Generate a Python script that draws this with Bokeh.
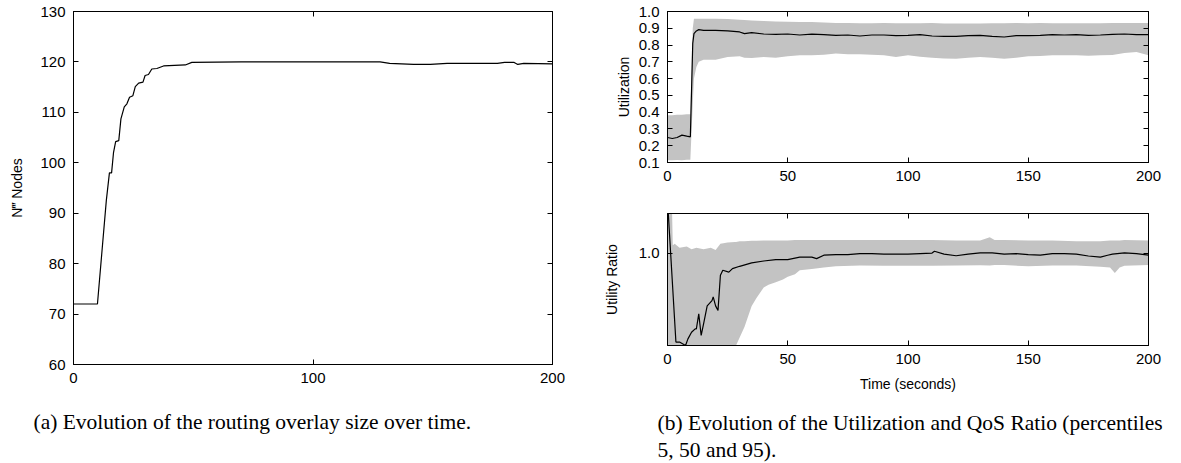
from bokeh.plotting import figure
from bokeh.models import Range1d, LinearAxis, FixedTicker, PrintfTickFormatter, Title, CustomJSTickFormatter
from bokeh.layouts import row, column
from bokeh.embed import file_html
from bokeh.resources import INLINE

# ---------------- data ----------------
# (a) routing overlay size
t_nodes = [0, 10, 13.7, 15.0, 15.9, 16.7, 17.6, 18.9, 19.8, 21.2, 22.3, 23.4, 24.8, 25.8, 27.2, 29.0,
           29.9, 31.3, 32.7, 34.8, 37.6, 46.7, 49.4, 70, 100, 128, 132, 142, 149, 156, 177, 180,
           184, 185.5, 188, 200]
nodes = [72, 72, 92.5, 98.0, 98.0, 102.0, 104.2, 104.4, 108.7, 111.1, 111.7, 113.0, 113.3, 115.1,
         115.8, 116.0, 117.3, 117.5, 118.6, 118.7, 119.2, 119.4, 119.9, 120.0, 120.0, 120.0, 119.7,
         119.5, 119.5, 119.7, 119.7, 119.9, 119.9, 119.5, 119.7, 119.6]

# (b) utilization percentiles
t_util = [0, 2, 4, 6, 8, 9.5, 10.5, 11, 12, 13, 15, 20, 25, 30, 32, 35,
          40, 45, 50, 55, 60, 65, 70, 75, 80, 85, 90, 95,
          100, 105, 110, 115, 120, 125, 130, 135, 140, 145, 150, 155, 160, 165, 170, 175, 180,
          185, 190, 195, 200]
util_p50 = [0.249, 0.243, 0.249, 0.263, 0.257, 0.253, 0.81, 0.868, 0.884, 0.892, 0.888, 0.888,
            0.884, 0.878, 0.868, 0.874,
            0.866, 0.864, 0.866, 0.86, 0.865, 0.862, 0.858, 0.86, 0.854, 0.86, 0.86, 0.856,
            0.858, 0.862, 0.854, 0.852, 0.852, 0.856, 0.858, 0.852, 0.848, 0.856, 0.856, 0.858,
            0.862, 0.86, 0.862, 0.858, 0.86, 0.864, 0.866, 0.862, 0.862]
util_p95 = [0.382, 0.382, 0.384, 0.384, 0.388, 0.388, 0.9, 0.957, 0.957, 0.957, 0.957, 0.957,
            0.955, 0.951, 0.95, 0.947,
            0.943, 0.941, 0.939, 0.937, 0.937, 0.935, 0.931, 0.931, 0.93, 0.93, 0.931, 0.93,
            0.93, 0.93, 0.931, 0.928, 0.928, 0.929, 0.929, 0.93, 0.93, 0.931, 0.93, 0.932,
            0.93, 0.93, 0.93, 0.93, 0.93, 0.931, 0.932, 0.931, 0.932]
util_p5 = [0.114, 0.113, 0.115, 0.114, 0.116, 0.116, 0.45, 0.6, 0.669, 0.70, 0.713, 0.713,
           0.729, 0.733, 0.725, 0.723,
           0.729, 0.725, 0.733, 0.739, 0.739, 0.742, 0.749, 0.745, 0.745, 0.742, 0.739, 0.729,
           0.739, 0.73, 0.725, 0.72, 0.719, 0.725, 0.729, 0.725, 0.719, 0.725, 0.733, 0.735,
           0.739, 0.739, 0.739, 0.737, 0.739, 0.74, 0.753, 0.759, 0.739]

# (b) utility ratio percentiles
t_ratio_med = [0, 3.5, 5, 7.5, 8.5, 10, 11.5, 12, 13, 14, 15, 16.5, 18.5, 19, 20, 21, 22, 23, 25.5,
               27, 30, 35, 40, 45, 50, 55, 60, 62, 65, 70, 75, 80, 85, 90, 95, 100, 105, 110, 111,
               115, 120, 125, 130, 135, 140, 145, 150, 155, 160, 165, 170, 175, 180, 183, 185,
               190, 195, 200]
ratio_p50 = [1.2, 0.663, 0.663, 0.65, 0.675, 0.70, 0.713, 0.713, 0.77, 0.688, 0.732, 0.80, 0.82,
             0.834, 0.80, 0.783, 0.916, 0.935, 0.928, 0.941, 0.95, 0.963, 0.97, 0.975, 0.975,
             0.985, 0.985, 0.979, 0.992, 0.994, 0.994, 0.998, 0.998, 0.996, 0.996, 0.996, 0.998,
             1.0, 1.007, 0.996, 0.99, 0.996, 1.001, 1.001, 0.996, 0.998, 0.994, 0.992, 0.998,
             0.998, 0.996, 0.989, 0.985, 0.992, 0.996, 1.001, 0.998, 0.992]
t_ratio_band = [0, 1.8, 2.2, 3, 5, 8, 10, 12, 15, 18, 20, 22, 25, 28, 28.5, 30, 32, 35, 37, 40,
                42, 45, 48, 50, 53, 55, 60, 65, 70, 80, 90, 100, 110, 120, 130, 134, 136, 140,
                150, 160, 170, 180, 184, 186, 188, 190, 200]
ratio_p95 = [1.2, 1.2, 1.03, 1.035, 1.02, 1.025, 1.015, 1.02, 1.015, 1.02, 1.012, 1.035, 1.04,
             1.042, 1.042, 1.045, 1.045, 1.047, 1.047, 1.048, 1.048, 1.048, 1.048, 1.048, 1.05,
             1.05, 1.05, 1.05, 1.05, 1.05, 1.05, 1.05, 1.05, 1.048, 1.048, 1.06, 1.05, 1.05,
             1.048, 1.048, 1.045, 1.045, 1.048, 1.048, 1.048, 1.05, 1.048]
ratio_p5 = [0.6, 0.6, 0.6, 0.6, 0.6, 0.6, 0.6, 0.6, 0.6, 0.6, 0.6, 0.6, 0.6, 0.6, 0.65, 0.68,
            0.72, 0.80, 0.83, 0.87, 0.88, 0.89, 0.90, 0.91, 0.92, 0.935, 0.94, 0.945, 0.95,
            0.953, 0.952, 0.952, 0.952, 0.953, 0.954, 0.953, 0.955, 0.955, 0.95, 0.953, 0.953,
            0.948, 0.945, 0.925, 0.945, 0.952, 0.955]

nodes_yticks = [60, 70, 80, 90, 100, 110, 120, 130]
nodes_xticks = [0, 100, 200]
util_yticks = [0.1, 0.2, 0.3, 0.4, 0.5, 0.6, 0.7, 0.8, 0.9, 1.0]
time_xticks = [0, 50, 100, 150, 200]
ratio_yticks = [1.0]

caption_a = "(a) Evolution of the routing overlay size over time."
caption_b = "(b) Evolution of the Utilization and QoS Ratio (percentiles\n5, 50 and 95)."

# ---------------- styling helpers ----------------
SANS = "Liberation Sans"
SERIF = "Liberation Serif"
BAND = "#c3c3c3"
CAP_SIZE = "21.5px"


def style_axis(ax, ticks, fmt=None, label=None, label_standoff=10):
    ax.ticker = FixedTicker(ticks=ticks)
    if fmt:
        ax.formatter = PrintfTickFormatter(format=fmt)
    ax.major_tick_in = 5
    ax.major_tick_out = 0
    ax.minor_tick_in = 0
    ax.minor_tick_out = 0
    ax.axis_line_color = "black"
    ax.major_tick_line_color = "black"
    ax.major_label_text_font = SANS
    ax.major_label_text_font_size = "15px"
    ax.major_label_text_color = "black"
    ax.major_label_standoff = 8
    if label:
        ax.axis_label = label
        ax.axis_label_text_font = SANS
        ax.axis_label_text_font_size = "14px"
        ax.axis_label_text_font_style = "normal"
        ax.axis_label_text_color = "black"
        ax.axis_label_standoff = label_standoff


def mirror_axis(p, ticks, side):
    ax = LinearAxis(ticker=FixedTicker(ticks=ticks),
                    formatter=CustomJSTickFormatter(code="return ''"))
    ax.major_tick_in = 5
    ax.major_tick_out = 0
    ax.minor_tick_in = 0
    ax.minor_tick_out = 0
    ax.major_label_standoff = 0
    ax.major_label_text_font_size = "0px"
    ax.axis_line_color = "black"
    ax.major_tick_line_color = "black"
    p.add_layout(ax, side)


def make_fig(width, height, xr, yr, left, right, top, bottom):
    p = figure(width=width, height=height, x_range=Range1d(*xr), y_range=Range1d(*yr),
               output_backend="svg", toolbar_location=None,
               min_border_left=left, min_border_right=right,
               min_border_top=top, min_border_bottom=bottom)
    p.grid.visible = False
    p.outline_line_color = "black"
    p.outline_line_width = 1
    p.background_fill_color = "white"
    p.border_fill_color = "white"
    return p


# ---------------- (a) ----------------
pa = make_fig(590, 463, (0, 200), (60, 130), 73, 38, 11, 99)
pa.line(t_nodes, nodes, line_color="black", line_width=1.2)
style_axis(pa.xaxis[0], nodes_xticks)
style_axis(pa.yaxis[0], nodes_yticks, label="N\u2034 Nodes", label_standoff=12)
mirror_axis(pa, nodes_xticks, "above")
mirror_axis(pa, nodes_yticks, "right")
pa.add_layout(Title(text=caption_a, align="left", vertical_align="top", offset=-40, standoff=49,
                    text_font=SERIF, text_font_size=CAP_SIZE, text_font_style="normal",
                    text_color="black", text_line_height=1.15), "below")

# ---------------- (b) top: utilization ----------------
pb = make_fig(591, 190, (0, 200), (0.1, 1.0), 77, 33, 11, 28)
pb.varea(x=t_util, y1=util_p5, y2=util_p95, fill_color=BAND, fill_alpha=1)
pb.line(t_util, util_p50, line_color="black", line_width=1.2)
style_axis(pb.xaxis[0], time_xticks)
style_axis(pb.yaxis[0], util_yticks, fmt="%.1f", label="Utilization", label_standoff=4)
mirror_axis(pb, time_xticks, "above")
mirror_axis(pb, util_yticks, "right")

# ---------------- (b) bottom: utility ratio ----------------
pc = make_fig(591, 210, (0, 200), (0.65, 1.15), 77, 33, 23, 55)
pc.varea(x=t_ratio_band, y1=ratio_p5, y2=ratio_p95, fill_color=BAND, fill_alpha=1)
pc.line(t_ratio_med, ratio_p50, line_color="black", line_width=1.2)
style_axis(pc.xaxis[0], time_xticks, label="Time (seconds)", label_standoff=9)
style_axis(pc.yaxis[0], ratio_yticks, fmt="%.1f", label="Utility Ratio", label_standoff=16)
mirror_axis(pc, time_xticks, "above")
mirror_axis(pc, ratio_yticks, "right")

# ---------------- (b) caption strip ----------------
cap = figure(width=591, height=63, x_range=Range1d(0, 1), y_range=Range1d(0, 1),
             output_backend="svg", toolbar_location=None,
             x_axis_location=None, y_axis_location=None,
             min_border_left=77, min_border_right=33, min_border_top=62, min_border_bottom=0)
cap.grid.visible = False
cap.outline_line_color = None
cap.background_fill_color = "white"
cap.border_fill_color = "white"
cap.add_layout(Title(text=caption_b, align="left", vertical_align="bottom", offset=-10, standoff=0,
                     text_font=SERIF, text_font_size=CAP_SIZE, text_font_style="normal",
                     text_color="black", text_line_height=1.15), "above")

layout = row(pa, column(pb, pc, cap))

with open("out.html", "w") as f:
    f.write(file_html(layout, INLINE))
